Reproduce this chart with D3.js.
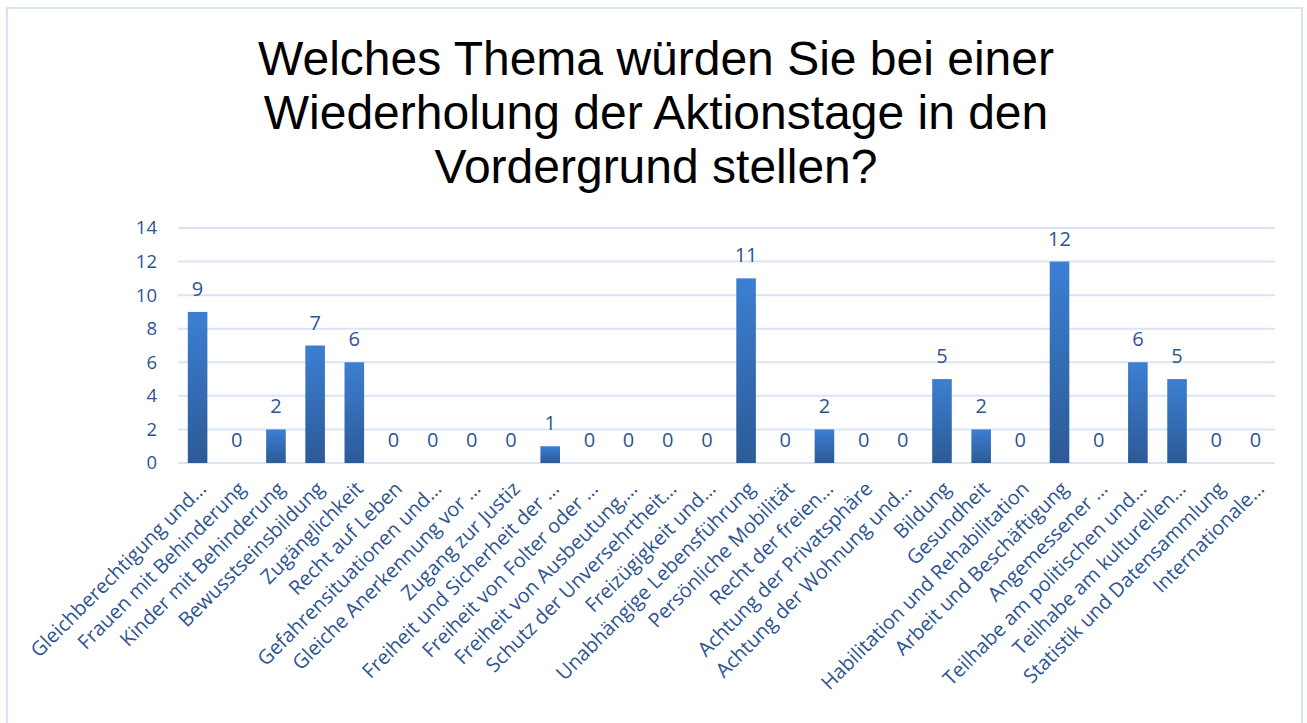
<!DOCTYPE html>
<html>
<head>
<meta charset="utf-8">
<script src="https://cdn.jsdelivr.net/npm/d3@7"></script>
<style>
  html, body { margin: 0; padding: 0; background: #fff; }
  svg { display: block; }
</style>
</head>
<body>
<div id="chart"></div>
<script>
'use strict';

const titleLines = [
    "Welches Thema würden Sie bei einer",
    "Wiederholung der Aktionstage in den",
    "Vordergrund stellen?"
];

const categories = [
    "Gleichberechtigung und…", "Frauen mit Behinderung", "Kinder mit Behinderung",
    "Bewusstseinsbildung", "Zugänglichkeit", "Recht auf Leben",
    "Gefahrensituationen und…", "Gleiche Anerkennung vor …", "Zugang zur Justiz",
    "Freiheit und Sicherheit der …", "Freiheit von Folter oder …", "Freiheit von Ausbeutung,…",
    "Schutz der Unversehrtheit…", "Freizügigkeit und…", "Unabhängige Lebensführung",
    "Persönliche Mobilität", "Recht der freien…", "Achtung der Privatsphäre",
    "Achtung der Wohnung und…", "Bildung", "Gesundheit",
    "Habilitation und Rehabilitation", "Arbeit und Beschäftigung", "Angemessener …",
    "Teilhabe am politischen und…", "Teilhabe am kulturellen…", "Statistik und Datensammlung",
    "Internationale…"
];

const counts = [9, 0, 2, 7, 6, 0, 0, 0, 0, 1, 0, 0, 0, 0, 11, 0, 2, 0, 0, 5, 2, 0, 12, 0, 6, 5, 0, 0];

const yTicks = [0, 2, 4, 6, 8, 10, 12, 14];

const W = 1307, H = 723;
const margin = {top: 228, right: 32, bottom: 260, left: 178};
const textBlue = "#2f5590";

const svg = d3.select("#chart").append("svg")
    .attr("width", W)
    .attr("height", H);

// gradient for bars
const defs = svg.append("defs");
const grad = defs.append("linearGradient")
    .attr("id", "barGrad")
    .attr("x1", 0).attr("y1", 0).attr("x2", 0).attr("y2", 1);
grad.append("stop").attr("offset", "0%").attr("stop-color", "#3c7fd3");
grad.append("stop").attr("offset", "100%").attr("stop-color", "#2c5a96");

// outer frame
svg.append("rect")
    .attr("x", 7).attr("y", 8)
    .attr("width", 1295).attr("height", H + 20)
    .attr("fill", "none")
    .attr("stroke", "#d5e3f4")
    .attr("stroke-width", 2);

// title
svg.append("text")
    .attr("font-family", "'Liberation Sans', Arial, sans-serif")
    .attr("font-size", 48)
    .attr("fill", "#000")
    .attr("text-anchor", "middle")
    .selectAll("tspan")
    .data(titleLines)
    .join("tspan")
    .attr("x", 656)
    .attr("y", (d, i) => 75 + i * 54)
    .text(d => d);

const x = d3.scaleBand()
    .domain(categories)
    .range([margin.left, W - margin.right])
    .paddingInner(0.5)
    .paddingOuter(0.25);

const y = d3.scaleLinear()
    .domain([0, 14])
    .range([H - margin.bottom, margin.top]);

// gridlines
svg.append("g")
    .attr("stroke", "#d9e5f4")
    .attr("stroke-width", 2)
    .selectAll("line")
    .data(yTicks)
    .join("line")
    .attr("x1", margin.left)
    .attr("x2", W - margin.right)
    .attr("y1", d => y(d))
    .attr("y2", d => y(d));

// y axis labels
const yAxis = svg.append("g")
    .attr("transform", `translate(${margin.left - 21},0)`)
    .call(d3.axisLeft(y).tickValues(yTicks).tickSize(0).tickPadding(0));
yAxis.select(".domain").remove();
yAxis.selectAll("text")
    .attr("font-family", "'Open Sans', sans-serif")
    .attr("font-size", 18.5)
    .attr("fill", textBlue);

// bars
svg.append("g")
    .selectAll("rect")
    .data(counts)
    .join("rect")
    .attr("x", (d, i) => x(categories[i]))
    .attr("y", d => y(d))
    .attr("width", x.bandwidth())
    .attr("height", d => y(0) - y(d))
    .attr("fill", "url(#barGrad)");

// value labels
svg.append("g")
    .attr("font-family", "'Open Sans', sans-serif")
    .attr("font-size", 20)
    .attr("fill", textBlue)
    .attr("text-anchor", "middle")
    .selectAll("text")
    .data(counts)
    .join("text")
    .attr("x", (d, i) => x(categories[i]) + x.bandwidth() / 2)
    .attr("y", d => y(d) - 16)
    .text(d => d);

// category labels
svg.append("g")
    .attr("font-family", "'Open Sans', sans-serif")
    .attr("font-size", 20)
    .attr("fill", textBlue)
    .attr("text-anchor", "end")
    .selectAll("text")
    .data(categories)
    .join("text")
    .attr("transform", d => `translate(${x(d) + x.bandwidth() / 2 + 10},${y(0) + 27}) rotate(-45)`)
    .text(d => d);
</script>
</body>
</html>
